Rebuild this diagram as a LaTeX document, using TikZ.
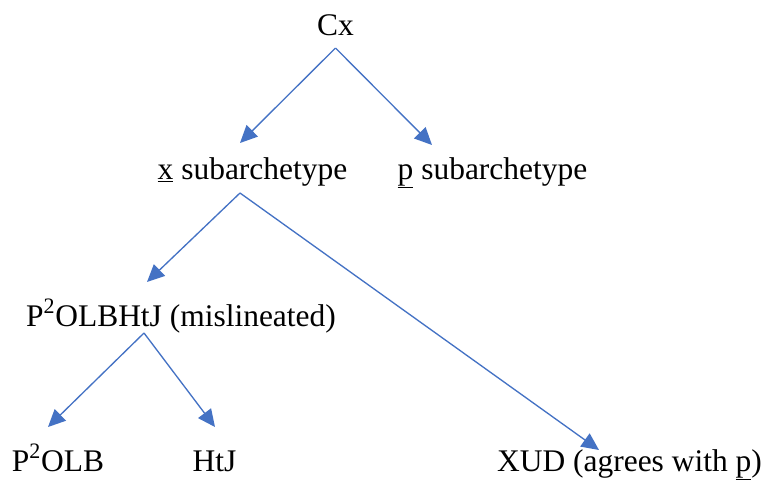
\documentclass[tikz,border=0pt]{standalone}
\usepackage{fontspec}
\setmainfont{Liberation Serif}
\usetikzlibrary{arrows.meta,positioning}

\definecolor{linkblue}{HTML}{4472C4}

\tikzset{
	link/.style={draw=linkblue, line width=1pt, -{Triangle[length=13pt,width=12pt]}, fill=none},
	witness/.style={anchor=base, inner sep=0pt, font=\fontsize{23.6}{28}\selectfont}
}

\begin{document}
\begin{tikzpicture}[x=0.75pt,y=-0.75pt]
	\useasboundingbox (0,0) rectangle (765,483);

	\node [witness] (cx) at (335.5,35) {Cx};

	\node [witness] (xsub) at (252.5,179) {\underline{x} subarchetype};

	\node [witness] (psub) at (492.5,179) {\underline{p} subarchetype};

	\node [witness] (mis) at (181,326) {P\textsuperscript{2}OLBHtJ (mislineated)};

	\node [witness] (polb) at (58,471) {P\textsuperscript{2}OLB};

	\node [witness] (htj) at (214.5,471) {HtJ};

	\node [witness] (xud) at (629.5,471) {XUD (agrees with \underline{p})};

	\draw [link] ([shift={(0,13)}]cx.base) -- ([shift={(-12.5,-36)}]xsub.base);

	\draw [link] ([shift={(0,13)}]cx.base) -- ([shift={(-60.5,-34)}]psub.base);

	\draw [link] ([shift={(-12.5,14)}]xsub.base) -- ([shift={(-34,-44)}]mis.base);

	\draw [link] ([shift={(-12.5,14)}]xsub.base) -- ([shift={(-30.5,-21)}]xud.base);

	\draw [link] ([shift={(-37,7)}]mis.base) -- ([shift={(-10,-44)}]polb.base);

	\draw [link] ([shift={(-37,7)}]mis.base) -- ([shift={(0.5,-44)}]htj.base);
\end{tikzpicture}
\end{document}
